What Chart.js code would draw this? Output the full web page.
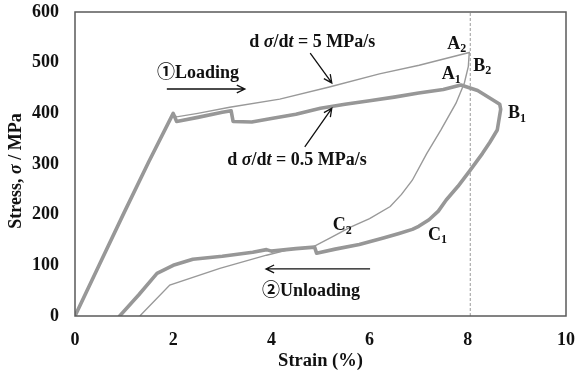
<!DOCTYPE html>
<html>
<head>
<meta charset="utf-8">
<script src="https://cdn.jsdelivr.net/npm/chart.js@4.4.0/dist/chart.umd.min.js"></script>
<style>
html, body { margin: 0; padding: 0; background: #fff; }
canvas { display: block; }
</style>
</head>
<body>
<canvas id="chart" width="576" height="376"></canvas>
<script>
// Tick labels
const strainTicks = [0, 2, 4, 6, 8, 10];
const stressTicks = [0, 100, 200, 300, 400, 500, 600];

// d(sigma)/dt = 0.5 MPa/s  (thick line) - loading then unloading
const slowStrain = [0, 0.5, 1.0, 1.5, 2.0, 2.07, 2.5, 3.0, 3.18, 3.22, 3.6, 4.0, 4.5, 5.0, 5.5, 6.0, 6.5, 7.0, 7.5, 7.86,
    8.2, 8.57, 8.65, 8.67, 8.6, 8.45, 8.3, 8.05, 7.8, 7.56, 7.4, 7.21, 7.0, 6.87, 6.6, 6.28, 5.79, 5.3, 4.92, 4.88, 4.5,
    4.0, 3.9, 3.62, 3.0, 2.4, 2.0, 1.67, 1.3, 0.91];
const slowStress = [0, 102, 204, 304, 400, 384, 392, 402, 405, 384, 383, 390, 398, 410, 418, 425, 432, 440, 447, 456,
    445, 423, 418, 408, 367, 343, 321, 288, 256, 229, 207, 190, 177, 171, 163, 154, 141, 132, 124, 136, 133,
    128, 131, 126, 118, 112, 100, 84, 42, 0];

// d(sigma)/dt = 5 MPa/s  (thin line)
const fastStrain = [0, 0.5, 1.0, 1.5, 2.0, 2.07, 2.5, 3.15, 4.17, 5.18, 6.2, 7.01, 8.03, 8.01, 7.93, 7.76, 7.45, 7.16, 6.87,
    6.65, 6.42, 6.0, 5.6, 5.2, 4.84, 4.4, 3.9, 2.95, 1.93, 1.32];
const fastStress = [0, 102, 204, 304, 398, 393, 400, 412, 428, 452, 478, 495, 520, 492, 460, 420, 367, 320, 268,
    240, 216, 192, 175, 154, 136, 132, 120, 94, 61, 0];

// Maximum-strain marker (dashed line)
const refStrain = 8.05;

// Point labels: [letter, subscript, strain, stress]
const pointLabels = [
    ['A', '2', 7.58, 537],
    ['B', '2', 8.11, 493],
    ['A', '1', 7.47, 476],
    ['B', '1', 8.82, 399],
    ['C', '2', 5.25, 178],
    ['C', '1', 7.19, 160]
];

// Arrows: [fromStrain, fromStress, toStrain, toStress]
const arrows = [
    [1.87, 448, 3.46, 448],
    [4.79, 519, 5.23, 460],
    [4.68, 334, 5.23, 410],
    [6.01, 93, 3.89, 93]
];

const SERIF = '"Liberation Serif", "Times New Roman", serif';
const CIRCLED = '"Liberation Serif", "DejaVu Serif", "Noto Sans CJK JP", serif';
const FS = 18;

function toPoints(xs, ys) {
    return xs.map((x, i) => ({ x: x, y: ys[i] }));
}

// Draw a run of text pieces with mixed fonts
function drawRich(ctx, parts, x, y, align) {
    let total = 0;
    parts.forEach(p => {
        ctx.font = p.font;
        p.w = ctx.measureText(p.t).width;
        total += p.w;
    });
    let cx = align === 'center' ? x - total / 2 : x;
    ctx.textAlign = 'left';
    parts.forEach(p => {
        ctx.font = p.font;
        ctx.fillText(p.t, cx, y);
        cx += p.w;
    });
}

function drawArrow(ctx, x1, y1, x2, y2) {
    const ang = Math.atan2(y2 - y1, x2 - x1);
    const head = 9;
    ctx.beginPath();
    ctx.moveTo(x1, y1);
    ctx.lineTo(x2, y2);
    ctx.moveTo(x2 - head * Math.cos(ang - 0.45), y2 - head * Math.sin(ang - 0.45));
    ctx.lineTo(x2, y2);
    ctx.lineTo(x2 - head * Math.cos(ang + 0.45), y2 - head * Math.sin(ang + 0.45));
    ctx.stroke();
}

const decorations = {
    id: 'decorations',
    afterDatasetsDraw(chart) {
        const ctx = chart.ctx;
        const xs = chart.scales.x;
        const ys = chart.scales.y;
        const area = chart.chartArea;
        const px = v => xs.getPixelForValue(v);
        const py = v => ys.getPixelForValue(v);
        const b = '700 ' + FS + 'px ' + SERIF;
        const bi = 'italic 700 ' + FS + 'px ' + SERIF;

        ctx.save();
        // plot frame
        ctx.strokeStyle = '#5a5a5a';
        ctx.lineWidth = 1.5;
        ctx.strokeRect(area.left, area.top, area.right - area.left, area.bottom - area.top);

        ctx.fillStyle = '#111';
        ctx.textBaseline = 'middle';

        // y-axis title
        ctx.save();
        ctx.translate(16, 171);
        ctx.rotate(-Math.PI / 2);
        drawRich(ctx, [
            { t: 'Stress, ', font: b },
            { t: 'σ', font: bi },
            { t: ' / MPa', font: b }
        ], 0, 0, 'center');
        ctx.restore();

        // rate annotations
        drawRich(ctx, [
            { t: 'd ', font: b }, { t: 'σ', font: bi }, { t: '/d', font: b },
            { t: 't', font: bi }, { t: ' = 5 MPa/s', font: b }
        ], px(4.83), py(541), 'center');
        drawRich(ctx, [
            { t: 'd ', font: b }, { t: 'σ', font: bi }, { t: '/d', font: b },
            { t: 't', font: bi }, { t: ' = 0.5 MPa/s', font: b }
        ], px(4.52), py(308), 'center');

        drawRich(ctx, [
            { t: '①', font: '700 ' + FS + 'px ' + CIRCLED }, { t: 'Loading', font: b }
        ], px(1.67), py(478), 'left');
        drawRich(ctx, [
            { t: '②', font: '700 ' + FS + 'px ' + CIRCLED }, { t: 'Unloading', font: b }
        ], px(3.81), py(49), 'left');

        // point labels with subscripts
        pointLabels.forEach(([main, sub, sx, sy]) => {
            ctx.font = b;
            const x = px(sx), y = py(sy);
            ctx.textAlign = 'left';
            ctx.fillText(main, x, y);
            const w = ctx.measureText(main).width;
            ctx.font = '700 12px ' + SERIF;
            ctx.fillText(sub, x + w, y + 5);
        });

        // arrows
        ctx.strokeStyle = '#111';
        ctx.lineWidth = 1.3;
        arrows.forEach(([a, b1, c, d]) => drawArrow(ctx, px(a), py(b1), px(c), py(d)));
        ctx.restore();
    }
};

new Chart(document.getElementById('chart'), {
    type: 'scatter',
    data: {
        datasets: [
            {
                label: 'ref',
                data: [{ x: refStrain, y: 0 }, { x: refStrain, y: 600 }],
                showLine: true,
                borderColor: '#9a9a9a',
                borderWidth: 1,
                borderDash: [3, 2],
                pointRadius: 0
            },
            {
                label: '5 MPa/s',
                data: toPoints(fastStrain, fastStress),
                showLine: true,
                borderColor: '#999999',
                borderWidth: 1.4,
                pointRadius: 0
            },
            {
                label: '0.5 MPa/s',
                data: toPoints(slowStrain, slowStress),
                showLine: true,
                borderColor: '#979797',
                borderWidth: 3.6,
                borderJoinStyle: 'round',
                borderCapStyle: 'round',
                pointRadius: 0
            }
        ]
    },
    options: {
        responsive: false,
        animation: false,
        layout: { padding: { top: 12, right: 10, left: 0, bottom: 0 } },
        plugins: {
            legend: { display: false },
            tooltip: { enabled: false }
        },
        scales: {
            x: {
                type: 'linear',
                min: 0,
                max: 10,
                afterBuildTicks: s => { s.ticks = strainTicks.map(v => ({ value: v })); },
                afterFit: s => { s.height = 60; s.paddingLeft = 0; s.paddingRight = 0; },
                grid: { display: false, drawTicks: false },
                border: { display: false },
                ticks: {
                    padding: 14,
                    color: '#111',
                    font: { family: SERIF, size: FS, weight: 'bold' }
                },
                title: {
                    display: true,
                    text: 'Strain (%)',
                    color: '#111',
                    padding: { top: 0, bottom: 4 },
                    font: { family: SERIF, size: 18.5, weight: 'bold' }
                }
            },
            y: {
                type: 'linear',
                min: 0,
                max: 600,
                afterBuildTicks: s => { s.ticks = stressTicks.map(v => ({ value: v })); },
                afterFit: s => { s.width = 75; s.paddingTop = 0; s.paddingBottom = 0; },
                grid: { display: false, drawTicks: false },
                border: { display: false },
                ticks: {
                    padding: 16,
                    color: '#111',
                    font: { family: SERIF, size: FS, weight: 'bold' }
                }
            }
        }
    },
    plugins: [decorations]
});
</script>
</body>
</html>
